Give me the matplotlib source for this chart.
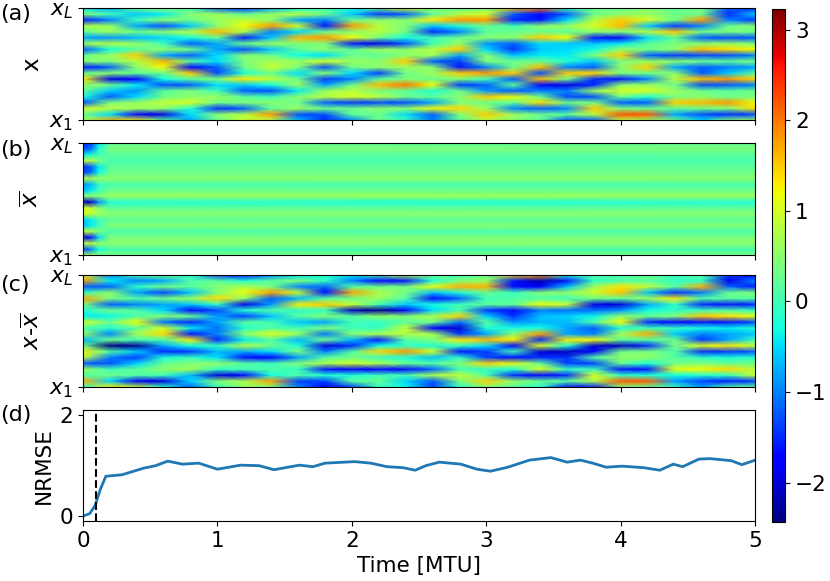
import matplotlib; matplotlib.use('agg')
import matplotlib.pyplot as plt
import numpy as np

# time grid of the coarse heatmap reading (MTU)
t_field = [0.0, 0.2, 0.4, 0.6, 0.8, 1.0, 1.2, 1.4, 1.6, 1.8, 2.0, 2.2, 2.4,
           2.6, 2.8, 3.0, 3.2, 3.4, 3.6, 3.8, 4.0, 4.2, 4.4, 4.6, 4.8, 5.0]

# truth state, rows from x_L (top) down to x_1 (bottom)
x_truth = [
    [-0.5, -0.8, 0.3, 0.6, 0.0, -1.2, -1.5, -0.8, -0.3, 0.0, -0.3, 0.3, 1.0, 0.5, 0.2, 0.4, 1.6, 2.0, 0.0, 0.3, 0.3, 0.5, 0.2, 0.4, -1.2, -1.5],
    [0.5, 0.0, -0.6, -0.4, 0.5, 0.6, 0.2, 0.6, 0.8, 0.3, -0.6, -1.4, -1.2, 0.2, 0.8, 1.0, -1.2, -1.8, -1.2, 0.3, 0.5, 0.6, 0.3, 0.3, -1.5, -0.6],
    [-1.6, -1.0, 0.0, 0.5, 0.3, 0.6, 0.9, 0.5, -0.8, -1.0, 0.3, 0.5, 0.5, 1.3, 1.8, 1.8, -1.5, -1.6, -0.5, 0.8, 1.5, 1.0, 0.3, 1.8, -1.0, -1.4],
    [0.8, 0.6, -0.8, -1.3, -0.6, 0.5, 1.2, 1.8, 1.0, -1.6, 1.8, 0.8, 0.4, -0.6, -0.2, 0.3, 0.0, 0.5, 0.6, 1.0, 1.6, -0.6, -1.4, -1.0, 0.3, 0.5],
    [0.2, 0.6, 0.3, 0.5, 0.8, 1.6, 0.7, -1.0, -0.5, 0.3, 0.5, 0.8, 0.3, -1.5, -1.0, 0.2, 0.3, 0.3, 0.2, 0.5, 0.4, 0.8, 1.5, 0.3, 0.4, 0.3],
    [-0.8, -0.9, -0.7, -0.5, -0.3, 0.2, -1.6, -0.6, 1.6, 1.8, 1.2, 0.3, -0.3, 0.0, 0.3, 0.5, 0.5, 1.5, 1.2, -1.6, -1.7, -0.5, 0.2, -1.2, -1.3, -1.2],
    [0.6, 0.8, 0.6, 0.0, -1.2, -0.8, 0.3, 0.6, 0.4, 0.4, -1.6, -1.9, -1.3, 0.0, 0.6, -0.9, -1.2, -0.5, -0.6, -0.6, -0.4, 0.2, 0.4, 0.5, 0.6, 0.4],
    [-1.3, -0.3, 0.2, 0.5, 0.3, -0.8, -1.3, -0.6, 0.2, 0.5, 0.2, 0.6, 0.5, 0.8, 1.5, -0.5, -1.4, -0.6, -0.5, -0.3, 0.6, 0.3, 0.5, 1.6, 1.4, 1.2],
    [0.3, 0.6, 1.5, -0.8, -1.2, -0.5, 0.5, 0.3, -0.3, -0.5, 0.3, 0.2, 0.5, 0.6, -0.8, 0.5, -0.6, -0.4, -0.4, 0.4, 1.5, -1.2, -1.4, -1.3, -1.3, -1.0],
    [0.5, 0.4, 0.8, 1.6, 0.2, -0.5, 0.4, 0.7, 0.6, 1.0, 0.6, 0.5, 1.5, -1.2, -1.4, 0.4, 0.3, 0.3, -0.2, -0.6, 0.4, 0.6, 0.5, 0.3, 0.2, 0.4],
    [-1.6, -1.2, 0.5, 1.2, -1.8, -1.2, 0.3, 0.9, 0.4, -1.3, 0.3, 0.5, 0.6, 0.5, -1.6, -1.0, 0.3, 1.6, -1.0, -1.2, 0.5, 1.5, -0.8, -1.2, -1.0, -0.8],
    [0.3, 0.5, 0.2, 0.3, 1.5, -1.3, -0.2, 0.3, -0.5, 0.5, -0.5, -1.4, 0.3, 0.6, 1.5, 1.8, 1.5, -1.3, 1.5, 1.4, 0.4, 0.3, 0.5, -1.2, -0.6, 0.2],
    [1.3, -1.9, -1.8, -0.3, 0.2, 0.4, 1.3, 0.8, 0.3, -1.4, -1.0, 0.2, 0.4, 0.3, 0.4, 0.0, -1.2, 1.6, 0.3, -1.5, -1.6, -1.0, 0.8, 1.6, 1.8, 1.4],
    [0.6, 0.3, -0.4, -1.3, -1.2, -0.5, -0.6, -0.3, 0.6, -0.8, 0.3, 1.6, 2.0, 1.2, -1.4, -1.2, 0.2, -1.8, -1.9, -1.5, 0.5, 0.6, 0.3, -1.3, -1.2, -1.0],
    [0.2, -0.6, -0.9, 0.2, 0.4, 0.0, -1.2, -1.3, -0.4, 0.6, 0.8, 0.4, 0.2, -0.2, 0.3, -0.9, -1.2, -1.0, -1.0, 0.6, 1.0, 1.0, 0.6, 0.3, 0.2, 0.3],
    [-0.3, -1.2, -0.5, 0.3, 0.5, 0.6, 0.2, 0.0, 0.5, 0.8, 1.0, 0.8, 0.3, 0.2, 0.5, 1.5, 1.2, 0.3, -1.3, -1.3, 0.3, -0.2, 0.4, 0.5, 0.3, 0.4],
    [-1.3, 0.4, 0.6, 0.9, 1.0, 0.3, 0.4, 0.5, 0.3, -1.2, -1.4, -1.3, -1.3, -0.8, 0.4, 0.3, 0.2, 1.4, 0.3, 0.4, -1.2, -1.2, 1.5, 1.6, 1.8, 1.2],
    [1.0, 0.8, 0.6, 0.5, -0.2, -1.5, -1.2, 0.2, 0.6, 0.3, 0.3, 0.5, 0.5, 1.2, 1.4, 0.6, -1.0, -1.2, -1.0, 1.5, 0.4, 0.3, 0.2, 0.3, 0.4, 1.4],
    [0.3, -0.5, -1.8, -1.9, -0.5, 0.5, 0.8, 1.8, -1.3, -1.3, 0.2, 0.3, -0.5, -1.2, 0.4, 1.5, 0.6, 0.3, 0.2, 0.8, 2.2, 2.2, -0.8, -1.3, -1.5, -1.3],
    [0.6, 1.6, 1.2, 0.2, -0.8, 0.3, 0.9, 0.8, -0.6, -1.5, -1.0, 0.3, 0.0, -1.0, 0.2, 0.8, 0.5, 0.2, -1.3, -1.2, 0.8, 0.6, 0.3, -0.5, 0.4, 0.6],
]

# ensemble mean: short transient at the start, then a steady profile per row
t_mean = [0.0, 0.06, 0.12, 0.2, 5.0]
mean_t0 = [-1.5, -1.3, -0.4, 0.9, -1.5, -1.3, 0.8, -0.9, -0.7, 0.4,
           -2.2, 1.0, 1.0, -0.6, -0.7, 0.9, -1.9, 0.9, -1.4, 0.7]
mean_t1 = [-1.3, -1.1, -0.2, 0.8, -1.2, -1.1, 0.7, -0.7, -0.4, 0.5,
           -2.0, 0.9, 0.9, -0.4, -0.4, 0.8, -1.6, 0.8, -1.0, 0.6]
mean_t2 = [-0.4, -0.2, 0.0, 0.4, -0.4, -0.3, 0.6, -0.1, 0.0, 0.5,
           -0.9, 0.5, 0.6, 0.0, 0.0, 0.4, -0.5, 0.6, -0.3, 0.5]
mean_steady = [0.2, 0.4, 0.15, 0.05, 0.2, 0.3, 0.5, 0.05, 0.3, 0.6,
               -0.2, 0.2, 0.5, 0.2, 0.45, 0.05, 0.4, 0.5, 0.05, 0.35]

# NRMSE of the forecast
t_err = [0.0, 0.05, 0.09, 0.13, 0.17, 0.29, 0.45, 0.54, 0.63, 0.74, 0.86,
         1.0, 1.17, 1.31, 1.42, 1.61, 1.71, 1.80, 2.02, 2.14, 2.26, 2.38,
         2.47, 2.55, 2.65, 2.81, 2.93, 3.03, 3.16, 3.32, 3.48, 3.60, 3.70,
         3.79, 3.89, 4.01, 4.17, 4.29, 4.39, 4.46, 4.58, 4.66, 4.82, 4.90, 5.0]
nrmse = [0.0, 0.05, 0.21, 0.54, 0.79, 0.82, 0.95, 1.0, 1.09, 1.03, 1.05,
         0.93, 1.01, 1.0, 0.92, 1.01, 0.98, 1.05, 1.08, 1.05, 0.98, 0.96,
         0.91, 1.0, 1.07, 1.03, 0.93, 0.89, 0.97, 1.11, 1.16, 1.07, 1.11,
         1.05, 0.97, 0.99, 0.96, 0.91, 1.03, 0.98, 1.13, 1.14, 1.10, 1.02, 1.11]
t_spinup = 0.1

VMIN, VMAX = -2.43, 3.23
FS = 15.5


def plot_field(ax, times, field, label):
    n_rows = field.shape[0]
    rows = np.arange(1, n_rows + 1)
    T, R = np.meshgrid(times, rows)
    # row 0 of the tables is the top (x_L) of the panel
    mesh = ax.pcolormesh(T, R, field[::-1], shading='gouraud', cmap='jet',
                         vmin=VMIN, vmax=VMAX)
    ax.set_xlim(0, 5)
    ax.set_ylim(1, n_rows)
    ax.set_yticks([1, n_rows])
    ax.set_yticklabels(['$x_1$', '$x_L$'], fontsize=FS + 0.5)
    ax.set_xticks(range(6))
    ax.set_xticklabels([])
    ax.set_ylabel(label, fontsize=FS + 1)
    return mesh


truth = np.array(x_truth)
mean = np.array([mean_t0, mean_t1, mean_t2, mean_steady, mean_steady]).T

# mean evaluated on the truth time grid, to form the anomaly x - xbar
mean_on_grid = np.array([np.interp(t_field, t_mean, row) for row in mean])
anomaly = truth - mean_on_grid

fig = plt.figure(figsize=(8.3, 5.81), dpi=100)
left, width = 0.1, 0.81
ax_a = fig.add_axes([left, 0.793, width, 0.193])
ax_b = fig.add_axes([left, 0.561, width, 0.193])
ax_c = fig.add_axes([left, 0.334, width, 0.193])
ax_d = fig.add_axes([left, 0.103, width, 0.191])
cax = fig.add_axes([0.930, 0.102, 0.016, 0.883])

mesh = plot_field(ax_a, t_field, truth, 'x')
plot_field(ax_b, t_mean, mean, r'$\overline{x}$')
plot_field(ax_c, t_field, anomaly, r'$x$-$\overline{x}$')

ax_d.plot(t_err, nrmse, color='#1f77b4', lw=2)
ax_d.axvline(t_spinup, color='k', ls='--', lw=1.5)
ax_d.set_xlim(0, 5)
ax_d.set_ylim(-0.1, 2.1)
ax_d.set_yticks([0, 2])
ax_d.set_xticks(range(6))
ax_d.tick_params(labelsize=FS)
ax_d.set_ylabel('NRMSE', fontsize=FS)
ax_d.set_xlabel('Time [MTU]', fontsize=FS)

cbar = fig.colorbar(mesh, cax=cax, ticks=range(-2, 4))
cbar.ax.tick_params(labelsize=FS)

for tag, y in zip(['(a)', '(b)', '(c)', '(d)'], [0.976, 0.742, 0.509, 0.286]):
    fig.text(0.0, y, tag, fontsize=FS + 0.5, va='center', ha='left')

fig.savefig('out.png', dpi=100)
